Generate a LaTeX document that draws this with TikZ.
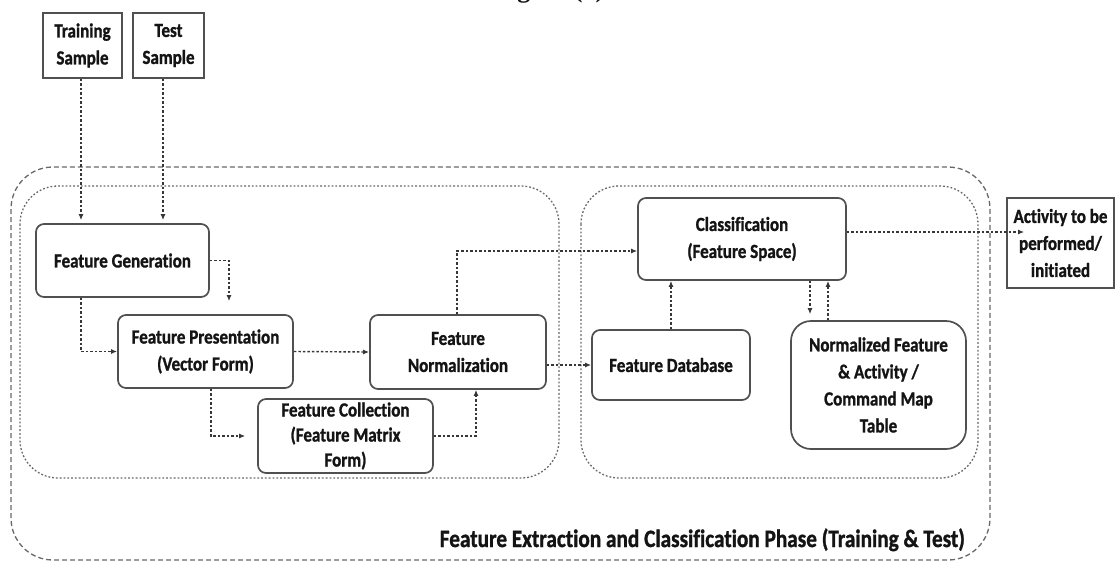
\documentclass[tikz,border=0pt]{standalone}
\usepackage{fontspec}
\setmainfont{Carlito}[FakeStretch=0.85, Ligatures=NoCommon,
  UprightFeatures={FakeBold=0.8}, BoldFeatures={FakeBold=1.2}]
\newfontfamily\capfont{Liberation Serif}
\usetikzlibrary{arrows.meta,calc}

\definecolor{edge}{RGB}{80,80,80}
\definecolor{wire}{RGB}{55,55,55}
\definecolor{ink}{RGB}{20,20,20}
\definecolor{frame}{RGB}{105,105,105}

\begin{document}
\begin{tikzpicture}[x=1pt,y=-1pt,
  box/.style={draw=edge, line width=1.7pt, rounded corners=8pt, fill=white,
    text=ink, align=center, inner sep=0pt,
    font=\fontsize{20}{27}\selectfont\bfseries},
  plainbox/.style={box, rounded corners=0pt},
  conn/.style={draw=wire, line width=1.4pt, dash pattern=on 2.5pt off 2pt,
    -{Latex[length=6pt,width=5pt]}},
  group/.style={draw=frame, line width=1.3pt, dash pattern=on 1.8pt off 2pt,
    rounded corners=38pt},
  phase/.style={draw=frame, line width=1.3pt, dash pattern=on 5pt off 3pt,
    rounded corners=42pt}]

% page
\fill[white] (0,0) rectangle (1116,563);
\useasboundingbox (0,0) rectangle (1116,563);

% caption of the figure (runs off the top edge)
\node[anchor=base west, text=ink, inner sep=0pt,
  font={\capfont\bfseries\fontsize{26}{30}\selectfont}] (figcap) at (494,-3) {Figure (1)};

% phase and stage frames
\draw[phase] (11,167) rectangle (990,560);
\draw[group] (20,186) rectangle (559,478);
\draw[group] (581,186) rectangle (978,478);

\node[anchor=base east, text=ink, inner sep=0pt,
  font=\fontsize{25}{30}\selectfont\bfseries] (phaselabel) at (965,547)
  {Feature Extraction and Classification Phase (Training \& Test)};

% inputs
\node[plainbox, minimum width=79pt, minimum height=65pt] (train) at (82.5,45.5) {Training\\Sample};
\node[plainbox, minimum width=71pt, minimum height=65pt] (test) at (168.5,45.5) {Test\\Sample};

% feature extraction stage
\node[box, minimum width=173pt, minimum height=73pt] (fg) at (122.5,260.5) {Feature Generation};
\node[box, minimum width=175pt, minimum height=73pt] (fp) at (205.5,351.5) {Feature Presentation\\(Vector Form)};
\node[box, minimum width=176pt, minimum height=74pt] (fn) at (458,352) {Feature\\Normalization};
\node[box, minimum width=175pt, minimum height=74pt,
  font=\fontsize{20}{25}\selectfont\bfseries] (fc) at (345.5,436) {Feature Collection\\(Feature Matrix\\Form)};

% classification stage
\node[box, minimum width=208pt, minimum height=82pt] (cls) at (742,239) {Classification\\(Feature Space)};
\node[box, minimum width=158pt, minimum height=70pt] (fdb) at (671,365) {Feature Database};
\node[box, rounded corners=20pt, minimum width=175pt, minimum height=128pt] (nf) at (878.5,385)
  {Normalized Feature\\\& Activity /\\Command Map\\Table};

% output
\node[plainbox, minimum width=107pt, minimum height=90pt] (act) at (1060.5,243) {Activity to be\\performed/\\initiated};

% connectors
\coordinate (trainB) at ([xshift=-1.5]train.south);
\coordinate (testB) at ([xshift=-5.5]test.south);
\draw[conn, shorten >=3pt] (trainB) -- (trainB |- fg.north);
\draw[conn, shorten >=3pt] (testB) -- (testB |- fg.north);

\coordinate (fpT) at ([xshift=23.5]fp.north);
\draw[conn, shorten >=13pt] (fg.east) -| (fpT);
\coordinate (fgB) at ([xshift=-41.5]fg.south);
\draw[conn] (fgB) |- (fp.west);
\draw[conn] (fp.east) -- (fn.west);
\coordinate (fpB) at ([xshift=5.5]fp.south);
\draw[conn, shorten >=12pt] (fpB) |- (fc.west);
\coordinate (fnB) at ([xshift=18]fn.south);
\draw[conn] (fc.east) -| (fnB);

\coordinate (fnT) at ([xshift=-1]fn.north);
\coordinate (clsL) at ([yshift=-12]cls.west);
\draw[conn] (fnT) |- (clsL);
\draw[conn] (fn.east |- fdb.west) -- (fdb.west);
\draw[conn] (fdb.north) -- (fdb.north |- cls.south);
\coordinate (clsD) at ([xshift=68]cls.south);
\draw[conn, shorten >=6pt] (clsD) -- (clsD |- nf.north);
\coordinate (nfU) at ([xshift=-50.5]nf.north);
\draw[conn] (nfU) -- (nfU |- cls.south);
\coordinate (clsR) at ([yshift=7]cls.east);
\draw[conn, shorten >=-18pt] (clsR) -- (clsR -| act.west);
\end{tikzpicture}
\end{document}
